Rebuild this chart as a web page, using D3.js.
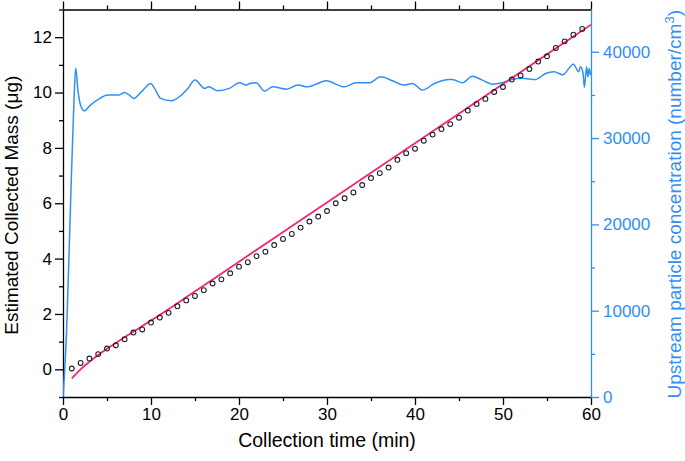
<!DOCTYPE html>
<html><head><meta charset="utf-8">
<script src="https://cdn.jsdelivr.net/npm/d3@7"></script>
<style>body{margin:0;background:#fff;} text{font-family:"Liberation Sans",Arial,sans-serif;}</style>
</head><body><svg id="c" width="685" height="461"></svg>
<script>
// Measured mass (circles), t = 1..59 min
const massTime = d3.range(1, 60);
const massValues = [0.03,0.23,0.39,0.55,0.75,0.87,1.09,1.33,1.44,1.69,1.87,2.04,2.28,2.49,2.65,2.86,3.10,3.25,3.47,3.71,3.87,4.09,4.25,4.49,4.71,4.89,5.12,5.34,5.52,5.72,6.00,6.18,6.39,6.66,6.91,7.09,7.29,7.57,7.81,7.97,8.26,8.48,8.68,8.86,9.09,9.35,9.59,9.77,10.02,10.20,10.47,10.62,10.85,11.12,11.31,11.61,11.85,12.09,12.30];
// Estimated mass curve (pink)
const estTime = [1,2,3,4,5,7,10,14,20,30,40,50,60];
const estValues = [-0.33,0.0,0.27,0.52,0.74,1.16,1.76,2.60,3.89,6.03,8.17,10.31,12.45];
// Upstream particle concentration (blue)
const concTime = [0,0.4,0.87,1.25,1.44,1.7,2.0,2.42,3.0,4.0,5.1,6.3,7.0,7.5,8.05,8.9,9.98,10.4,11.1,12.3,13.45,14.2,15.0,16.1,16.55,17.6,18.9,20.07,20.8,21.2,21.96,22.9,23.85,25.4,26.7,27.8,28.76,29.9,31.97,33.3,34.8,36.1,37.45,38.8,39.7,40.85,42.2,43.9,44.25,45.4,46.5,47.65,48.8,49.9,51.05,52.2,53.7,54.85,55.8,56.8,58.0,58.6,58.8,59.1,59.25,59.5,59.65,59.8,59.95];
const concValues = [0,7400,22800,34400,38100,35500,33800,33150,33700,34480,34980,34980,35290,35000,34600,35360,36330,35760,34600,34320,34980,35760,36720,35760,35940,35480,35760,36410,36140,36330,36410,35440,35940,35670,36140,35940,36250,36640,35940,36410,36410,37100,36640,36140,36330,35560,36330,36800,36800,36410,37180,36720,36250,36410,36800,36920,36800,37490,37680,37350,38570,37680,38260,37490,35900,38260,37100,38070,37300];
const xTicks = [0,10,20,30,40,50,60];
const yLeftTicks = [0,2,4,6,8,10,12];
const yRightTicks = [0,10000,20000,30000,40000];

const blue = "#2f8ff7", pink = "#f7237c";
const m = {l:63, r:94, t:9.5, b:64};
const W = 685, H = 461;
const svg = d3.select("#c");
const x = d3.scaleLinear().domain([0,60]).range([m.l, W-m.r]);
const yL = d3.scaleLinear().domain([-1,13]).range([H-m.b, m.t]);
const yR = d3.scaleLinear().domain([0,44900]).range([H-m.b, m.t]);

svg.append("clipPath").attr("id","clip").append("rect")
  .attr("x",m.l).attr("y",m.t).attr("width",W-m.l-m.r).attr("height",H-m.t-m.b);

function style(g, color){
  g.selectAll("path,line").attr("stroke",color).attr("stroke-width",1.3);
  g.selectAll("text").attr("fill",color).style("font-size","17px");
}
// minor ticks
const xMinor = d3.range(5,60,10);
svg.append("g").attr("transform",`translate(0,${H-m.b})`)
  .call(d3.axisBottom(x).tickValues(xMinor).tickSize(4).tickFormat("")).call(g=>{style(g,"#000");g.select(".domain").remove();});
svg.append("g").attr("transform",`translate(0,${m.t})`)
  .call(d3.axisTop(x).tickValues(xMinor).tickSize(4).tickFormat("")).call(g=>{style(g,"#000");g.select(".domain").remove();});
svg.append("g").attr("transform",`translate(${m.l},0)`)
  .call(d3.axisLeft(yL).tickValues(d3.range(-1,14,2)).tickSize(4).tickFormat("")).call(g=>{style(g,"#000");g.select(".domain").remove();});
svg.append("g").attr("transform",`translate(${W-m.r},0)`)
  .call(d3.axisRight(yR).tickValues([5000,15000,25000,35000]).tickSize(4).tickFormat("")).call(g=>{style(g,blue);g.select(".domain").remove();});

// major axes
svg.append("g").attr("transform",`translate(0,${H-m.b})`)
  .call(d3.axisBottom(x).tickValues(xTicks).tickSize(8).tickPadding(3).tickSizeOuter(0)).call(g=>style(g,"#000"));
svg.append("g").attr("transform",`translate(0,${m.t})`)
  .call(d3.axisTop(x).tickValues(xTicks).tickSize(8).tickFormat("").tickSizeOuter(0)).call(g=>style(g,"#000"));
svg.append("g").attr("transform",`translate(${m.l},0)`)
  .call(d3.axisLeft(yL).tickValues(yLeftTicks).tickSize(8).tickPadding(3).tickSizeOuter(0)).call(g=>style(g,"#000"));
svg.append("g").attr("transform",`translate(${W-m.r},0)`)
  .call(d3.axisRight(yR).tickValues(yRightTicks).tickSize(8).tickPadding(4).tickSizeOuter(0).tickFormat(d3.format("d"))).call(g=>style(g,blue));

const plot = svg.append("g").attr("clip-path","url(#clip)");
// blue concentration
plot.append("path").datum(concTime.map((t,i)=>[t,concValues[i]]))
  .attr("fill","none").attr("stroke",blue).attr("stroke-width",1.5)
  .attr("d", d3.line().x(d=>x(d[0])).y(d=>yR(d[1])).curve(d3.curveMonotoneX));
// pink estimate
plot.append("path").datum(estTime.map((t,i)=>[t,estValues[i]]))
  .attr("fill","none").attr("stroke",pink).attr("stroke-width",1.8)
  .attr("d", d3.line().x(d=>x(d[0])).y(d=>yL(d[1])).curve(d3.curveMonotoneX));
// circles
plot.selectAll("circle").data(massTime.map((t,i)=>[t,massValues[i]])).join("circle")
  .attr("cx",d=>x(d[0])).attr("cy",d=>yL(d[1])).attr("r",2.4)
  .attr("fill","none").attr("stroke","#222").attr("stroke-width",1.1);

// titles
svg.append("text").attr("x",(m.l+W-m.r)/2).attr("y",447).attr("text-anchor","middle")
  .style("font-size","19.5px").text("Collection time (min)");
svg.append("text").attr("transform",`translate(18,${(m.t+H-m.b)/2 + 2}) rotate(-90)`).attr("text-anchor","middle")
  .style("font-size","19px").text("Estimated Collected Mass (\u03BCg)");
const rt = svg.append("text").attr("transform",`translate(681,${(m.t+H-m.b)/2 + 1}) rotate(-90)`).attr("text-anchor","middle")
  .attr("fill",blue).style("font-size","19px");
rt.append("tspan").text("Upstream particle concentration (number/cm");
rt.append("tspan").attr("baseline-shift","super").style("font-size","13px").text("3");
rt.append("tspan").text(")");
</script></body></html>
